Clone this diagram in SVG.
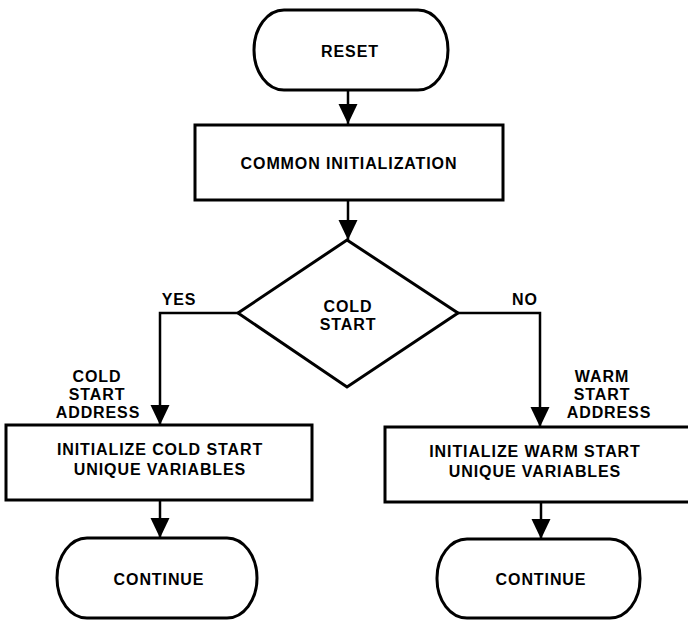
<svg xmlns="http://www.w3.org/2000/svg" width="688" height="620" viewBox="0 0 688 620">
<defs>
<style>
.shape{fill:#fff;stroke:#000;stroke-width:3}
.line{fill:none;stroke:#000;stroke-width:2.5}
text{font-family:"Liberation Sans",Arial,sans-serif;font-weight:bold;font-size:16px;letter-spacing:0.9px;fill:#000;text-anchor:middle}
</style>
<marker id="ah" markerUnits="userSpaceOnUse" markerWidth="20" markerHeight="24" refX="20" refY="9.5" orient="auto">
<path d="M0,0 L20,9.5 L0,19 Z" fill="#000"/>
</marker>
</defs>
<rect width="688" height="620" fill="#fff"/>
<g id="connectors">
<line class="line" x1="348" y1="90" x2="348" y2="124" marker-end="url(#ah)"/>
<line class="line" x1="348" y1="200" x2="348" y2="240" marker-end="url(#ah)"/>
<polyline class="line" points="238,313 160,313 160,425" marker-end="url(#ah)"/>
<polyline class="line" points="458,313 540,313 540,427" marker-end="url(#ah)"/>
<line class="line" x1="160" y1="500" x2="160" y2="538" marker-end="url(#ah)"/>
<line class="line" x1="541" y1="502" x2="541" y2="539" marker-end="url(#ah)"/>
<text x="179" y="305">YES</text>
<text x="525" y="305">NO</text>
<text x="97" y="382">COLD</text>
<text x="97" y="400">START</text>
<text x="98" y="418">ADDRESS</text>
<text x="602" y="382">WARM</text>
<text x="602" y="400">START</text>
<text x="609" y="418">ADDRESS</text>
</g>
<g id="reset">
<rect class="shape" x="254" y="10" width="194" height="80" rx="30" ry="40"/>
<text x="350" y="57">RESET</text>
</g>
<g id="common">
<rect class="shape" x="195" y="125" width="308" height="75"/>
<text x="349" y="169">COMMON INITIALIZATION</text>
</g>
<g id="decision">
<polygon class="shape" points="347,240 458,313 347,387 238,313"/>
<text x="348" y="312">COLD</text>
<text x="348" y="330">START</text>
</g>
<g id="coldinit">
<rect class="shape" x="6" y="425" width="306" height="75"/>
<text x="160" y="455">INITIALIZE COLD START</text>
<text x="160" y="475">UNIQUE VARIABLES</text>
</g>
<g id="warminit">
<rect class="shape" x="385" y="427" width="306" height="75"/>
<text x="535" y="457">INITIALIZE WARM START</text>
<text x="535" y="477">UNIQUE VARIABLES</text>
</g>
<g id="continue1">
<rect class="shape" x="57" y="538" width="200" height="80" rx="30" ry="40"/>
<text x="159" y="585">CONTINUE</text>
</g>
<g id="continue2">
<rect class="shape" x="437" y="539" width="203" height="79" rx="30" ry="39"/>
<text x="541" y="585">CONTINUE</text>
</g>
</svg>
